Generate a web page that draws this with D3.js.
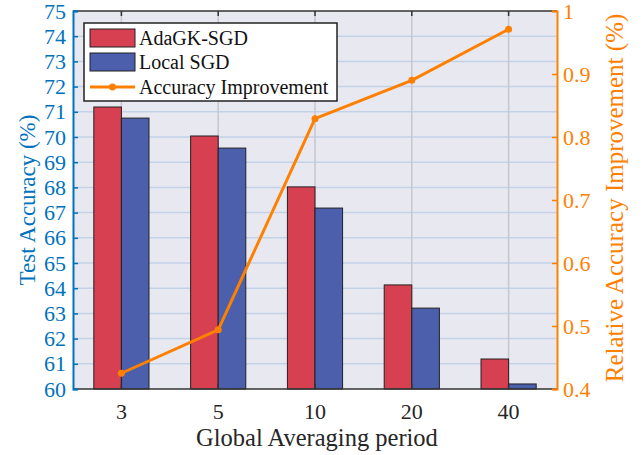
<!DOCTYPE html>
<html lang="en">
<head>
<meta charset="UTF-8">
<title>Accuracy vs Global Averaging period</title>
<script src="https://d3js.org/d3.v7.min.js"></script>
<style>
  body { margin: 0; background: #fff; }
  text { font-family: "Liberation Serif", "Times New Roman", serif; }
</style>
</head>
<body>
<script>
// data
const periods = ["3", "5", "10", "20", "40"];
const adagk = [71.19, 70.04, 68.02, 64.13, 61.19];
const localSgd = [70.75, 69.56, 67.18, 63.21, 60.2];
const improvement = [0.425, 0.494, 0.829, 0.89, 0.971];
const leftTicks = d3.range(60, 76);
const rightTicks = [0.4, 0.5, 0.6, 0.7, 0.8, 0.9, 1];

const width = 644, height = 455;
const m = { left: 73, right: 87, top: 11, bottom: 66 };
const blue = "#0072BD", orange = "#FF8000";

const svg = d3.select("body").append("svg").attr("width", width).attr("height", height);

const x = d3.scaleBand().domain(periods).range([m.left, width - m.right]);
const yL = d3.scaleLinear().domain([60, 75]).range([height - m.bottom, m.top]);
const yR = d3.scaleLinear().domain([0.4, 1]).range([height - m.bottom, m.top]);
const cx = d => x(d) + x.bandwidth() / 2;
const bw = x.bandwidth() * 0.285;

// background
svg.append("rect")
    .attr("x", m.left).attr("y", m.top)
    .attr("width", width - m.left - m.right).attr("height", height - m.top - m.bottom)
    .attr("fill", "#e8e8f1");

// grid
svg.append("g").selectAll("line").data(leftTicks.slice(1, -1)).join("line")
    .attr("x1", m.left).attr("x2", width - m.right)
    .attr("y1", d => yL(d)).attr("y2", d => yL(d))
    .attr("stroke", "#c3d2e6").attr("stroke-width", 1.5);
svg.append("g").selectAll("line").data(periods).join("line")
    .attr("x1", cx).attr("x2", cx)
    .attr("y1", m.top).attr("y2", height - m.bottom)
    .attr("stroke", "#c6c6cc").attr("stroke-width", 1.5);

// bars
const bars = svg.append("g");
bars.selectAll(".a").data(adagk).join("rect")
    .attr("x", (d, i) => cx(periods[i]) - bw)
    .attr("y", d => yL(d)).attr("width", bw)
    .attr("height", d => yL(60) - yL(d))
    .attr("fill", "#d64050").attr("stroke", "#222").attr("stroke-width", 1);
bars.selectAll(".b").data(localSgd).join("rect")
    .attr("x", (d, i) => cx(periods[i]))
    .attr("y", d => yL(d)).attr("width", bw)
    .attr("height", d => yL(60) - yL(d))
    .attr("fill", "#4b5fac").attr("stroke", "#222").attr("stroke-width", 1);

// improvement line
const line = d3.line().x((d, i) => cx(periods[i])).y(d => yR(d));
svg.append("path").datum(improvement)
    .attr("d", line).attr("fill", "none")
    .attr("stroke", orange).attr("stroke-width", 3);
svg.append("g").selectAll("circle").data(improvement).join("circle")
    .attr("cx", (d, i) => cx(periods[i])).attr("cy", d => yR(d))
    .attr("r", 3.5).attr("fill", orange);

// frame: top and bottom black
svg.append("line").attr("x1", m.left).attr("x2", width - m.right)
    .attr("y1", m.top).attr("y2", m.top).attr("stroke", "#333").attr("stroke-width", 1.5);
svg.append("line").attr("x1", m.left).attr("x2", width - m.right)
    .attr("y1", height - m.bottom).attr("y2", height - m.bottom).attr("stroke", "#333").attr("stroke-width", 1.5);

// x ticks (inward, top and bottom)
periods.forEach(p => {
    svg.append("line").attr("x1", cx(p)).attr("x2", cx(p))
        .attr("y1", m.top).attr("y2", m.top + 5).attr("stroke", "#333").attr("stroke-width", 1.5);
    svg.append("line").attr("x1", cx(p)).attr("x2", cx(p))
        .attr("y1", height - m.bottom).attr("y2", height - m.bottom - 5).attr("stroke", "#333").attr("stroke-width", 1.5);
});
svg.append("g").selectAll("text").data(periods).join("text")
    .attr("x", cx).attr("y", 419)
    .attr("text-anchor", "middle").attr("font-size", 22).attr("fill", "#262626")
    .text(d => d);
svg.append("text").attr("x", (m.left + width - m.right) / 2 + 2).attr("y", 446)
    .attr("text-anchor", "middle").attr("font-size", 24.5).attr("fill", "#262626")
    .text("Global Averaging period");

// left axis
const gL = svg.append("g").attr("transform", `translate(${m.left},0)`)
    .call(d3.axisLeft(yL).tickValues(leftTicks).tickSize(-5).tickPadding(7).tickFormat(d3.format("d")));
gL.select(".domain").attr("stroke", blue).attr("stroke-width", 2);
gL.selectAll(".tick line").attr("stroke", blue).attr("stroke-width", 1.5);
gL.selectAll("text").attr("fill", blue).attr("font-size", 22)
    .attr("font-family", "Liberation Serif, serif");
svg.append("text")
    .attr("transform", `translate(35,${(m.top + height - m.bottom) / 2}) rotate(-90)`)
    .attr("text-anchor", "middle").attr("font-size", 23).attr("fill", blue)
    .text("Test Accuracy (%)");

// right axis
const gR = svg.append("g").attr("transform", `translate(${width - m.right},0)`)
    .call(d3.axisRight(yR).tickValues(rightTicks).tickSize(-5).tickPadding(6).tickFormat(d => d === 1 ? "1" : d3.format(".1f")(d)));
gR.select(".domain").attr("stroke", orange).attr("stroke-width", 2);
gR.selectAll(".tick line").attr("stroke", orange).attr("stroke-width", 1.5);
gR.selectAll("text").attr("fill", orange).attr("font-size", 22)
    .attr("font-family", "Liberation Serif, serif");
svg.append("text")
    .attr("transform", `translate(623,198) rotate(-90)`)
    .attr("text-anchor", "middle").attr("font-size", 25).attr("fill", orange)
    .text("Relative Accuracy Improvement (%)");

// legend
const lg = svg.append("g").attr("transform", "translate(84,23)");
lg.append("rect").attr("width", 253).attr("height", 78)
    .attr("fill", "#fff").attr("stroke", "#222").attr("stroke-width", 1.5);
const items = [
    { name: "AdaGK-SGD", type: "bar", color: "#d64050" },
    { name: "Local SGD", type: "bar", color: "#4b5fac" },
    { name: "Accuracy Improvement", type: "line", color: orange }
];
items.forEach((it, i) => {
    const yy = 15 + i * 24;
    if (it.type === "bar") {
        lg.append("rect").attr("x", 6).attr("y", yy - 9).attr("width", 45).attr("height", 18)
            .attr("fill", it.color).attr("stroke", "#222").attr("stroke-width", 1);
    } else {
        lg.append("line").attr("x1", 6).attr("x2", 51).attr("y1", yy + 1).attr("y2", yy + 1)
            .attr("stroke", it.color).attr("stroke-width", 3);
        lg.append("circle").attr("cx", 28.5).attr("cy", yy + 1).attr("r", 3.5).attr("fill", it.color);
    }
    lg.append("text").attr("x", 55).attr("y", yy + (it.type === "line" ? 1 : 0)).attr("dy", "0.35em")
        .attr("font-size", 20).attr("fill", "#111").text(it.name);
});
</script>
</body>
</html>
